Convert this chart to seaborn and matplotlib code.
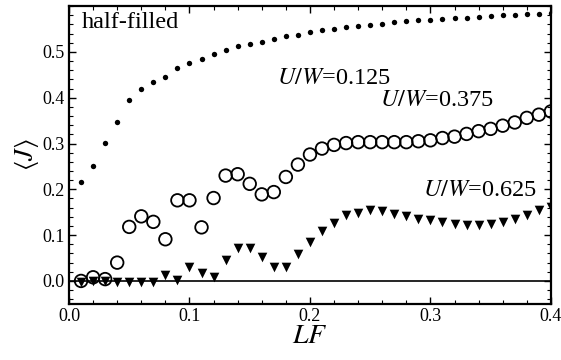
import matplotlib
matplotlib.use('Agg')
import matplotlib.pyplot as plt
import numpy as np
import seaborn as sns
from matplotlib.ticker import MultipleLocator

# LF values (0.01 .. 0.40)
lf = [round(0.01 * k, 2) for k in range(1, 41)]

# <J> for U/W = 0.125 (small dots)
j_0125 = [0.215, 0.252, 0.301, 0.348, 0.395, 0.419, 0.435, 0.446, 0.465, 0.476,
          0.485, 0.496, 0.505, 0.512, 0.517, 0.522, 0.528, 0.534, 0.538, 0.543,
          0.547, 0.551, 0.554, 0.557, 0.559, 0.562, 0.565, 0.567, 0.569, 0.570,
          0.572, 0.574, 0.575, 0.577, 0.578, 0.580, 0.580, 0.582, 0.583, 0.584]

# <J> for U/W = 0.375 (open circles)
j_0375 = [0.000, 0.008, 0.004, 0.040, 0.118, 0.141, 0.129, 0.091, 0.176, 0.176,
          0.117, 0.181, 0.230, 0.233, 0.212, 0.189, 0.194, 0.227, 0.254, 0.276,
          0.289, 0.297, 0.301, 0.303, 0.303, 0.303, 0.303, 0.303, 0.305, 0.307,
          0.312, 0.315, 0.321, 0.327, 0.332, 0.339, 0.346, 0.356, 0.363, 0.370]

# <J> for U/W = 0.625 (down triangles)
j_0625 = [-0.002, -0.001, -0.001, -0.002, -0.002, -0.002, -0.002, 0.013, 0.002, 0.031,
          0.018, 0.008, 0.046, 0.072, 0.072, 0.053, 0.030, 0.031, 0.058, 0.085,
          0.109, 0.127, 0.143, 0.149, 0.154, 0.152, 0.147, 0.142, 0.136, 0.133,
          0.129, 0.125, 0.123, 0.122, 0.125, 0.129, 0.135, 0.143, 0.154, 0.162]

sns.set_style('ticks')
plt.rcParams['font.family'] = ['Liberation Serif', 'DejaVu Serif']
plt.rcParams['mathtext.fontset'] = 'stix'
plt.rcParams['text.color'] = 'black'
plt.rcParams['axes.labelcolor'] = 'black'
plt.rcParams['xtick.color'] = 'black'
plt.rcParams['ytick.color'] = 'black'

fig = plt.figure(figsize=(5.61, 3.60), dpi=100)
ax = fig.add_axes([0.123, 0.156, 0.859, 0.827])

ax.axhline(0, color='black', lw=1.2, zorder=1)

sns.scatterplot(x=lf, y=j_0125, ax=ax, marker='o', s=15, color='black',
                edgecolor='black', linewidth=0, zorder=3)
sns.scatterplot(x=lf, y=j_0375, ax=ax, marker='o', s=82, color='black',
                facecolor='none', edgecolor='black', linewidth=1.3, zorder=3)
sns.scatterplot(x=lf, y=j_0625, ax=ax, marker='v', s=48, color='black',
                edgecolor='black', linewidth=0, zorder=3)

ax.set_xlim(0, 0.4)
ax.set_ylim(-0.05, 0.6)
ax.xaxis.set_minor_locator(MultipleLocator(0.02))
ax.yaxis.set_minor_locator(MultipleLocator(0.02))
ax.set_xticks([0.0, 0.1, 0.2, 0.3, 0.4])
ax.set_xticklabels(['0.0', '0.1', '0.2', '0.3', '0.4'])
ax.set_yticks([0.0, 0.1, 0.2, 0.3, 0.4, 0.5])
ax.set_yticklabels(['0.0', '0.1', '0.2', '0.3', '0.4', '0.5'])
ax.tick_params(which='both', direction='in', top=True, right=True, labelsize=13,
               pad=3, color='black', labelcolor='black')
ax.tick_params(which='major', length=5, width=1)
ax.tick_params(which='minor', length=3, width=0.8)
for sp in ax.spines.values():
    sp.set_visible(True)
    sp.set_linewidth(1.6)
    sp.set_color('black')

ax.set_xlabel(r'$LF$', fontsize=20, labelpad=-1, color='black')
ax.set_ylabel(r'$\langle J\rangle$', fontsize=19, labelpad=1, color='black')

ax.text(0.011, 0.588, 'half-filled', fontsize=17.5, va='top', ha='left', color='black')
ax.text(0.173, 0.443, r'$U/W$=0.125', fontsize=17.5, va='center', ha='left', color='black')
ax.text(0.258, 0.393, r'$U/W$=0.375', fontsize=17.5, va='center', ha='left', color='black')
ax.text(0.294, 0.198, r'$U/W$=0.625', fontsize=17.5, va='center', ha='left', color='black')

fig.savefig('out.png', dpi=100)
